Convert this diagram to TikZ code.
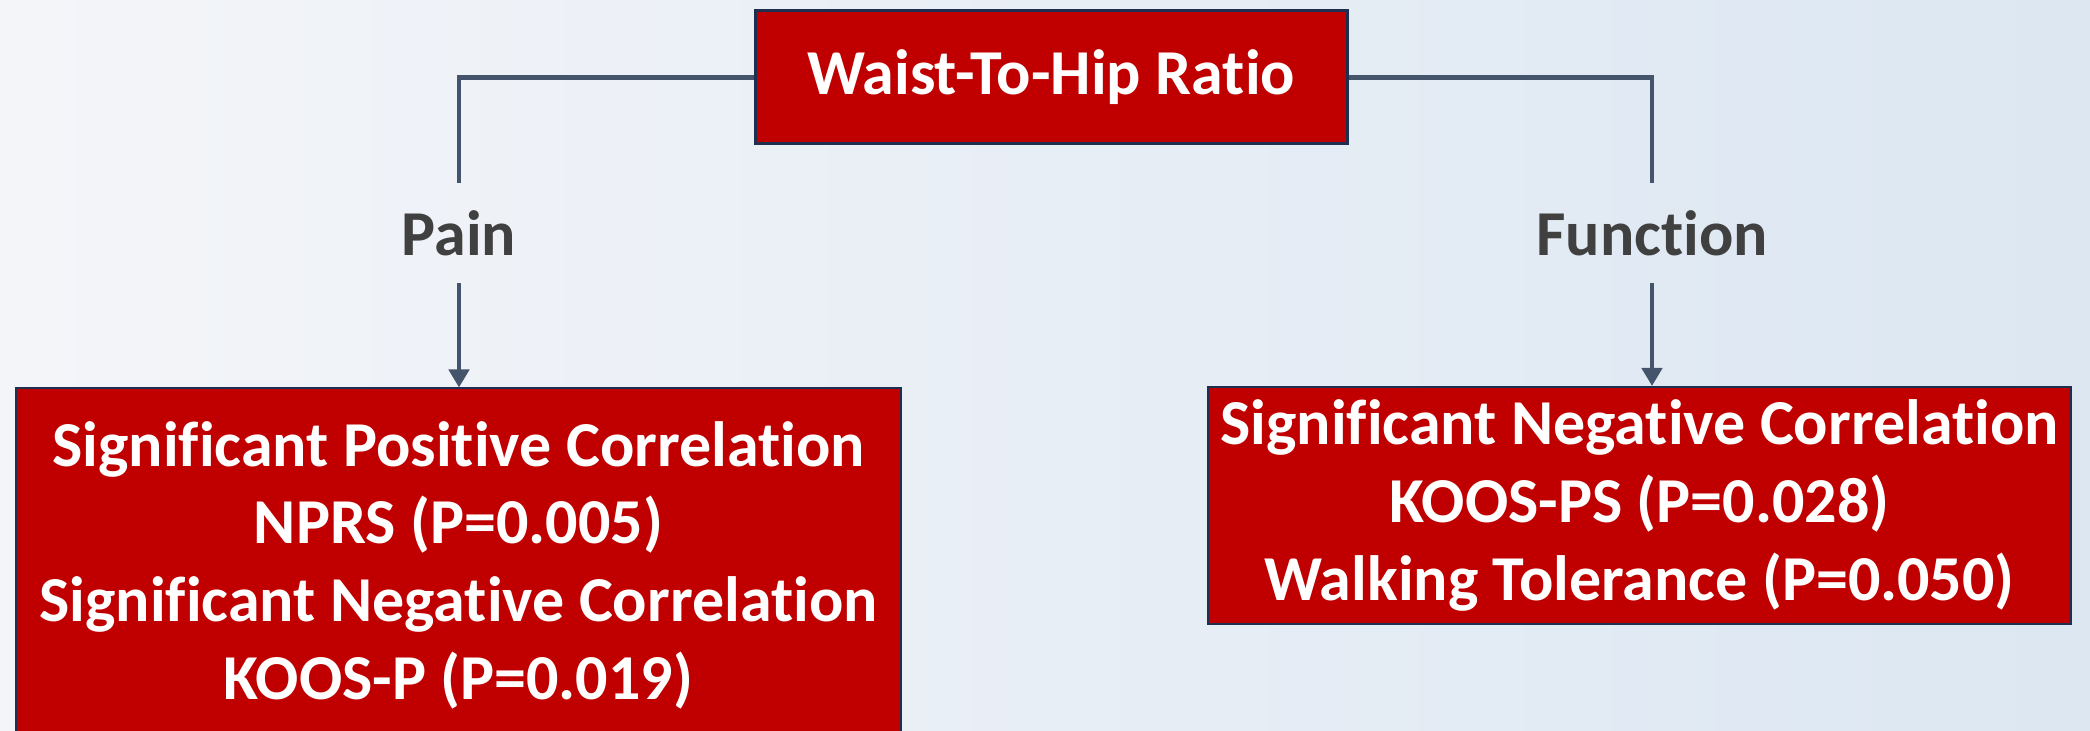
\documentclass[tikz,border=0pt]{standalone}
\usepackage{fontspec}
\setmainfont{Carlito}[Ligatures={NoCommon,NoContextual}]
\usetikzlibrary{arrows.meta}
\definecolor{boxRed}{HTML}{C00000}
\definecolor{boxEdge}{HTML}{1F2F4F}
\definecolor{lineSlate}{HTML}{44546A}
\definecolor{labelGrey}{HTML}{404040}
\definecolor{bgLeft}{HTML}{F4F5F9}
\definecolor{bgRight}{HTML}{DCE7F2}

\begin{document}
\begin{tikzpicture}
[x=0.5pt,y=-0.5pt,%
  boxDecorate/.style={draw=boxEdge,line width=1pt,fill=boxRed,text=white,%
    font=\fontsize{32}{38.8}\selectfont\bfseries,align=center,inner sep=0pt},%
  labelDecorate/.style={text=labelGrey,font=\fontsize{32}{38.8}\selectfont\bfseries,%
    inner sep=0pt,minimum height=50pt},%
  lineDecorate/.style={draw=lineSlate,line width=2.4pt},%
  arrowDecorate/.style={lineDecorate,-{Triangle[width=10pt,length=9pt]}}]
%% background
\useasboundingbox (0,0) rectangle (2090,731);
\clip (0,0) rectangle (2090,731);
\shade[left color=bgLeft,right color=bgRight] (0,0) rectangle (2090,731);
%% boxes
\node (ratio) at (1051,77.5) [boxDecorate,minimum width=296pt,minimum height=66.5pt,line width=1.5pt] {Waist-To-Hip Ratio};
\node (painbox) at (458.5,565) [boxDecorate,minimum width=442.5pt,minimum height=176.5pt]
  {Significant Positive Correlation\\NPRS (P=0.005)\\Significant Negative Correlation\\KOOS-P (P=0.019)};
\node (funcbox) at (1639.5,505.5) [boxDecorate,minimum width=431.5pt,minimum height=118.5pt]
  {Significant Negative Correlation\\KOOS-PS (P=0.028)\\Walking Tolerance (P=0.050)};
%% labels
\foreach \nodename/\x/\txt in {pain/459/Pain, function/1652/Function}
{
  \node (\nodename) at (\x,233) [labelDecorate] {\txt};
}
%% connectors
\draw[lineDecorate] (ratio.west) -| (pain.north);
\draw[lineDecorate] (ratio.east) -| (function.north);
\draw[arrowDecorate] (pain.south) -- (painbox.north -| pain.south);
\draw[arrowDecorate] (function.south) -- (funcbox.north -| function.south);
\end{tikzpicture}
\end{document}
